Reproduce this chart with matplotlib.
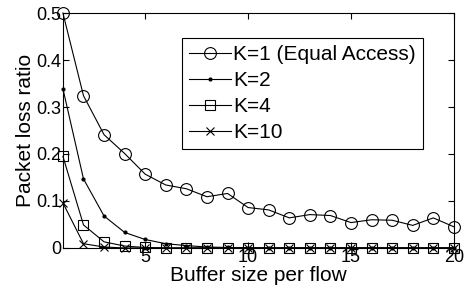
import matplotlib
matplotlib.use("Agg")
import matplotlib.pyplot as plt
import numpy as np

plt.rcParams['font.family'] = ['Liberation Sans', 'DejaVu Sans']

buffer_sizes = list(range(1, 21))
k1 = [0.500, 0.324, 0.241, 0.201, 0.157, 0.134, 0.126, 0.109, 0.116, 0.086,
      0.081, 0.064, 0.071, 0.069, 0.054, 0.060, 0.059, 0.048, 0.064, 0.045]
k2 = [0.339, 0.147, 0.068, 0.033, 0.018, 0.009, 0.005, 0.002, 0.001, 0.0005,
      0, 0, 0, 0, 0, 0, 0, 0, 0, 0]
k4 = [0.195, 0.049, 0.013, 0.004, 0.001, 0, 0, 0, 0, 0,
      0, 0, 0, 0, 0, 0, 0, 0, 0, 0]
k10 = [0.096, 0.009, 0.002, 0, 0, 0, 0, 0, 0, 0,
       0, 0, 0, 0, 0, 0, 0, 0, 0, 0]
labels = ['K=1 (Equal Access)', 'K=2', 'K=4', 'K=10']
xticks = [5, 10, 15, 20]
yticks = [0, 0.1, 0.2, 0.3, 0.4, 0.5]

fig = plt.figure(figsize=(4.66, 2.9), dpi=100)
ax = fig.add_axes([0.135, 0.145, 0.839, 0.81])

lw = 0.8
ax.plot(buffer_sizes, k1, color='black', lw=lw, marker='o', ms=8.5, mfc='none', mew=0.8, label=labels[0], clip_on=False)
ax.plot(buffer_sizes, k2, color='black', lw=lw, marker='.', ms=4, label=labels[1], clip_on=False)
ax.plot(buffer_sizes, k4, color='black', lw=lw, marker='s', ms=6.5, mfc='none', mew=0.8, label=labels[2], clip_on=False)
ax.plot(buffer_sizes, k10, color='black', lw=lw, marker='x', ms=6, mew=0.8, label=labels[3], clip_on=False)

ax.set_xlim(1, 20)
ax.set_ylim(0, 0.5)
ax.set_xticks(xticks)
ax.set_yticks(yticks)
ax.set_yticklabels(['0', '0.1', '0.2', '0.3', '0.4', '0.5'])
ax.tick_params(direction='in', top=True, right=True, labelsize=13, length=4, width=0.8, pad=1)
for s in ax.spines.values():
    s.set_linewidth(0.8)
ax.set_xlabel('Buffer size per flow', fontsize=15, labelpad=0)
ax.set_ylabel('Packet loss ratio', fontsize=15, labelpad=1)

leg = ax.legend(loc='upper left', bbox_to_anchor=(0.304, 0.894), fontsize=15,
                frameon=True, fancybox=False, edgecolor='black', framealpha=1,
                borderpad=0.35, labelspacing=0.33, handlelength=2.0, handletextpad=0.1,
                borderaxespad=0)
leg.get_frame().set_linewidth(0.8)

fig.savefig('out.png', dpi=100)
